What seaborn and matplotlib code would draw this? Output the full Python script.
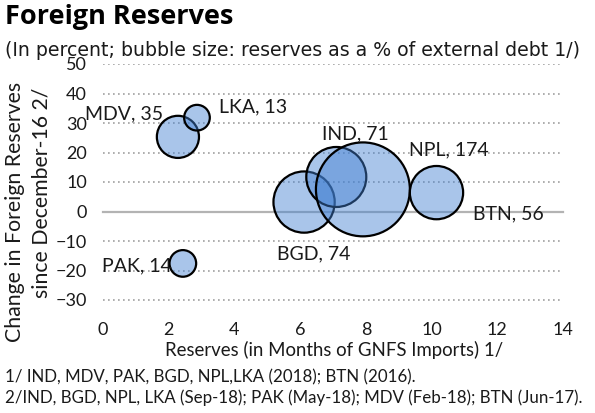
import numpy as np
import pandas as pd
import seaborn as sns
import matplotlib
matplotlib.use("Agg")
import matplotlib.pyplot as plt

# ---- data ----
countries = ["MDV", "LKA", "PAK", "BGD", "IND", "NPL", "BTN"]
reserves_months = [2.28, 2.86, 2.43, 6.12, 7.10, 7.91, 10.15]
reserve_change = [25.3, 31.8, -17.6, 3.2, 11.7, 7.5, 6.4]
reserves_pct_debt = [35, 13, 14, 74, 71, 174, 56]
x_ticks = [0, 2, 4, 6, 8, 10, 12, 14]
y_ticks = [-30, -20, -10, 0, 10, 20, 30, 40, 50]

title = "Foreign Reserves"
subtitle = "(In percent; bubble size: reserves as a % of external debt 1/)"
x_label = "Reserves (in Months of GNFS Imports) 1/"
y_label_lines = ["Change in Foreign Reserves", "since December-16 2/"]
notes = ["1/ IND, MDV, PAK, BGD, NPL,LKA (2018); BTN (2016).",
         "2/IND, BGD, NPL, LKA (Sep-18); PAK (May-18); MDV (Feb-18); BTN (Jun-17)."]

df = pd.DataFrame({"country": countries, "months": reserves_months,
                   "change": reserve_change, "size": reserves_pct_debt})

# label placement (pixel offsets from bubble centre) and alignment
label_pos = {"MDV": (-15, 23, "right"), "LKA": (22, 11, "left"),
             "PAK": (-11, -2, "right"), "BGD": (9.5, -51.5, "center"),
             "IND": (19, 43, "center"), "NPL": (86, 39, "center"),
             "BTN": (71.5, -21, "center")}

sns.set_theme(style="white")
plt.rcParams["font.family"] = ["Lato", "DejaVu Sans"]

W, H = 595, 413
fig = plt.figure(figsize=(W / 100, H / 100), dpi=100)
left, right, top, bottom = 103, 563, 64, 317.7
ax = fig.add_axes([left / W, 1 - bottom / H, (right - left) / W, (bottom - top) / H])

base = (65 / 255, 128 / 255, 210 / 255)
smax = 26.28 * max(reserves_pct_debt)
sns.scatterplot(data=df, x="months", y="change", size="size",
                sizes=(0, smax), size_norm=(0, max(reserves_pct_debt)),
                color=base, edgecolor="black", linewidth=1.6,
                legend=False, ax=ax, zorder=3)
coll = ax.collections[-1]
coll.set_alpha(None)
coll.set_facecolor((*base, 0.45))
coll.set_edgecolor("black")

for c, xv, yv, sv in zip(countries, reserves_months, reserve_change, reserves_pct_debt):
    dx, dy, ha = label_pos[c]
    ax.annotate(f"{c}, {sv}", (xv, yv), xytext=(dx, dy), textcoords="offset pixels",
                ha=ha, va="center", fontsize=14, color="#1a1a1a", zorder=4)

ax.set_xlim(0, 14)
ax.set_ylim(-36, 50)
ax.set_xticks(x_ticks)
ax.set_yticks(y_ticks)
ax.set_xlabel("")
ax.set_ylabel("")
for s in ["top", "right", "left"]:
    ax.spines[s].set_visible(False)
ax.spines["bottom"].set_position(("data", 0))
ax.spines["bottom"].set_color("#b3b3b3")
ax.spines["bottom"].set_linewidth(1.6)
ax.spines["bottom"].set_zorder(2)
ax.tick_params(axis="x", direction="in", length=6, width=1.6, color="#b3b3b3",
               labelbottom=False)
ax.tick_params(axis="y", length=0, pad=11.5, labelsize=13, labelcolor="#1a1a1a")
ax.yaxis.grid(True, linestyle=(0, (1, 2)), color="#a0a0a0", linewidth=1.2)
ax.xaxis.grid(False)
ax.set_axisbelow(True)

sec = ax.secondary_xaxis("bottom")
sec.set_xticks(x_ticks)
sec.spines["bottom"].set_visible(False)
sec.tick_params(length=0, pad=3, labelsize=13, labelcolor="#1a1a1a")

fig.text(5 / W, 1 - 4 / H, title, fontsize=19.5, fontweight="bold",
         family=["Open Sans", "DejaVu Sans"], ha="left", va="top", color="black")
fig.text(5 / W, 1 - 51 / H, subtitle, fontsize=13.6, family=["DejaVu Sans"],
         ha="left", va="center", color="#1a1a1a")
fig.text(334 / W, 1 - 350 / H, x_label, fontsize=13.4, ha="center", va="center", color="#1a1a1a")
fig.text(15 / W, 1 - 211.5 / H, y_label_lines[0], fontsize=15.3, rotation=90,
         ha="center", va="center", color="#1a1a1a")
fig.text(42 / W, 1 - 193 / H, y_label_lines[1], fontsize=15.3, rotation=90,
         ha="center", va="center", color="#1a1a1a")
fig.text(5 / W, 1 - 377 / H, notes[0], fontsize=12.2, ha="left", va="center", color="#1a1a1a")
fig.text(5 / W, 1 - 398 / H, notes[1], fontsize=12.2, ha="left", va="center", color="#1a1a1a")

fig.savefig("out.png", dpi=100)
